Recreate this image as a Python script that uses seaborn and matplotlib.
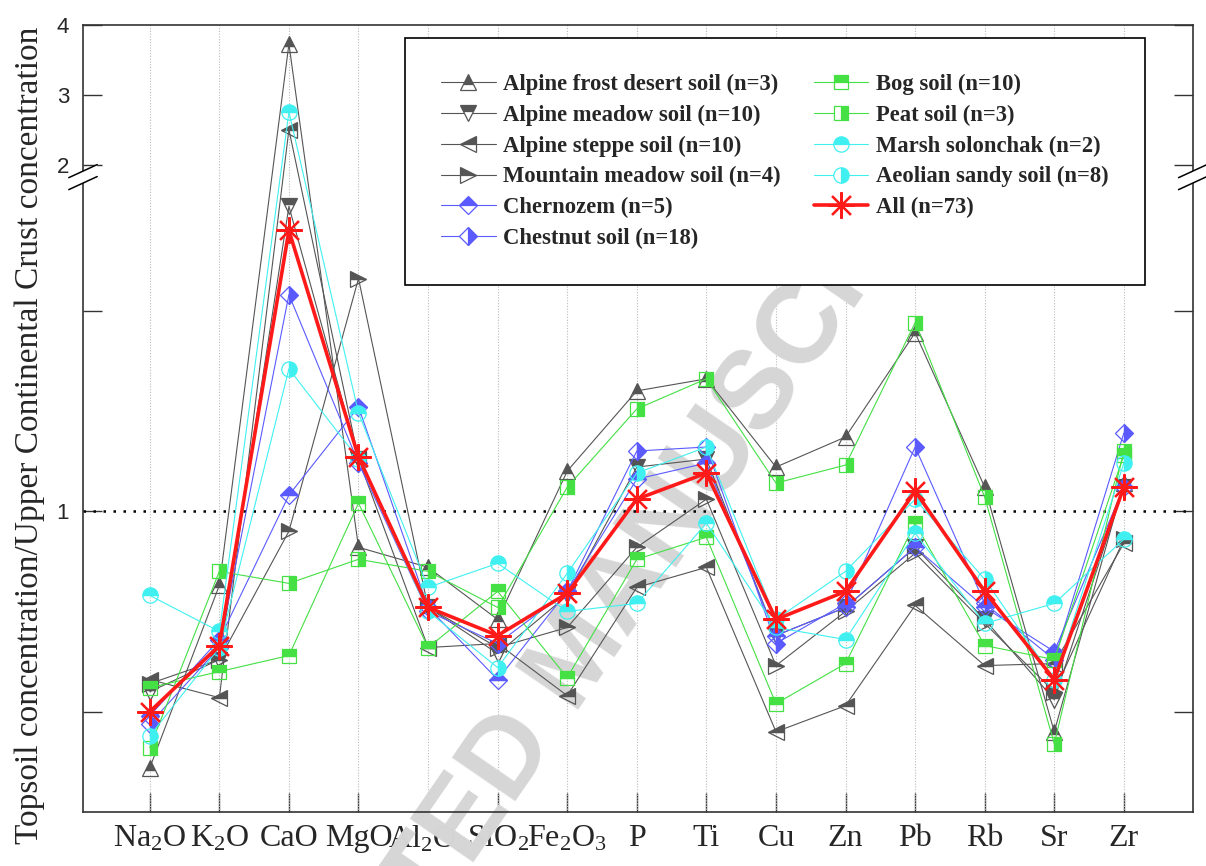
import numpy as np
import pandas as pd
import seaborn as sns
import matplotlib.pyplot as plt
from matplotlib.lines import Line2D

# ratios topsoil / upper continental crust
oxides = [r"Na$_2$O", r"K$_2$O", "CaO", "MgO", r"Al$_2$O$_3$", r"SiO$_2$", r"Fe$_2$O$_3$",
          "P", "Ti", "Cu", "Zn", "Pb", "Rb", "Sr", "Zr"]

alpine_frost = [0.36, 0.815, 3.73, 0.91, 0.86, 0.73, 1.10, 1.30, 1.33, 1.11, 1.185, 1.445, 1.06, 0.45, 1.07]
alpine_meadow = [0.55, 0.63, 1.76, 1.13, 0.76, 0.645, 0.79, 1.11, 1.13, 0.69, 0.76, 0.91, 0.73, 0.53, 1.06]
alpine_steppe = [0.58, 0.535, 2.51, 1.13, 0.66, 0.67, 0.54, 0.81, 0.86, 0.45, 0.515, 0.765, 0.615, 0.62, 0.92]
mountain_meadow = [0.57, 0.63, 0.95, 1.58, 0.76, 0.66, 0.71, 0.91, 1.03, 0.615, 0.75, 0.895, 0.72, 0.55, 0.93]
chernozem = [0.49, 0.68, 1.04, 1.26, 0.76, 0.58, 0.80, 1.08, 1.12, 0.69, 0.76, 0.91, 0.76, 0.65, 1.06]
chestnut = [0.47, 0.66, 1.54, 1.12, 0.75, 0.67, 0.80, 1.15, 1.16, 0.67, 0.77, 1.16, 0.77, 0.63, 1.195]
bog = [0.56, 0.60, 0.64, 1.02, 0.66, 0.80, 0.585, 0.88, 0.935, 0.52, 0.62, 0.97, 0.665, 0.63, 1.14]
peat = [0.41, 0.85, 0.82, 0.88, 0.85, 0.76, 1.06, 1.255, 1.33, 1.07, 1.115, 1.47, 1.035, 0.42, 1.15]
marsh = [0.79, 0.70, 2.76, 1.245, 0.81, 0.87, 0.75, 0.77, 0.97, 0.71, 0.68, 0.945, 0.72, 0.77, 0.93]
aeolian = [0.44, 0.66, 1.355, 1.13, 0.75, 0.61, 0.845, 1.095, 1.16, 0.73, 0.85, 1.03, 0.83, 0.58, 1.12]
all_soils = [0.50, 0.665, 1.70, 1.135, 0.76, 0.69, 0.795, 1.03, 1.095, 0.73, 0.80, 1.05, 0.80, 0.58, 1.06]

gray, blue, green, cyan = "#555555", "#5a5aff", "#44e044", "#40f0f0"
series = [
    ("Alpine frost desert soil (n=3)", alpine_frost, gray, "^", "top", 11),
    ("Alpine meadow soil (n=10)", alpine_meadow, gray, "v", "top", 11),
    ("Alpine steppe soil (n=10)", alpine_steppe, gray, "<", "top", 11),
    ("Mountain meadow soil (n=4)", mountain_meadow, gray, ">", "top", 11),
    ("Chernozem (n=5)", chernozem, blue, "D", "top", 9),
    ("Chestnut soil (n=18)", chestnut, blue, "D", "right", 9),
    ("Bog soil (n=10)", bog, green, "s", "top", 10),
    ("Peat soil (n=3)", peat, green, "s", "right", 10),
    ("Marsh solonchak (n=2)", marsh, cyan, "o", "top", 11),
    ("Aeolian sandy soil (n=8)", aeolian, cyan, "o", "right", 11),
]

sns.set_style("ticks")
plt.rcParams["font.family"] = ["Liberation Serif", "DejaVu Serif"]
plt.rcParams["mathtext.fontset"] = "custom"
plt.rcParams["mathtext.rm"] = "Liberation Serif"
plt.rcParams["mathtext.it"] = "Liberation Serif:italic"
plt.rcParams["mathtext.default"] = "rm"

fig = plt.figure(figsize=(12.06, 8.66), dpi=100)
ax = fig.add_axes([0.0688, 0.0624, 0.9202, 0.9087])

# broken y axis: 0.25-1.833 and 1.833-4 with different stretch
B = 1.833
def fwd(y):
    y = np.asarray(y, dtype=float)
    return np.where(y <= B, y * 400.0, B * 400.0 + (y - B) * 70.0)
def inv(u):
    u = np.asarray(u, dtype=float)
    return np.where(u <= B * 400.0, u / 400.0, B + (u - B * 400.0) / 70.0)
ax.set_yscale("function", functions=(fwd, inv))

pos = np.arange(len(oxides))
handles = []
for name, vals, col, mk, fs, ms in series:
    df = pd.DataFrame({"x": pos, "y": vals})
    sns.lineplot(data=df, x="x", y="y", ax=ax, color=col, lw=0.8, sort=False,
                 marker=mk, markersize=ms, fillstyle=fs, markerfacecolor=col,
                 markerfacecoloralt="none", markeredgecolor=col, markeredgewidth=0.9,
                 zorder=3)
    handles.append(Line2D([], [], color=col, lw=0.8, marker=mk, markersize=ms, fillstyle=fs,
                          markerfacecolor=col, markerfacecoloralt="white",
                          markeredgecolor=col, markeredgewidth=0.9, label=name))

df_all = pd.DataFrame({"x": pos, "y": all_soils})
sns.lineplot(data=df_all, x="x", y="y", ax=ax, color="#ff1a1a", lw=2.6, sort=False,
             marker=(8, 2, 0), markersize=19, markeredgecolor="#ff1a1a",
             markeredgewidth=1.6, zorder=4)
handles.append(Line2D([], [], color="#ff1a1a", lw=2.6, marker=(8, 2, 0), markersize=19,
                      markeredgecolor="#ff1a1a", markeredgewidth=1.6, label="All (n=73)"))

ax.set_xlim(-0.96, 14.99)
ax.set_ylim(0.25, 4.0)
for p in pos:
    ax.axvline(p, color="#bbbbbb", lw=0.8, ls=(0, (1, 1.5)), zorder=1)
ax.axhline(1, color="black", lw=1.8, ls=(0, (1, 3)), zorder=2)

ax.set_xticks(pos)
ax.set_xticklabels(oxides, fontsize=23)
ax.set_yticks([0.5, 1, 1.5, 2, 3, 4])
ax.set_yticklabels(["", "1", "", "2", "3", "4"], fontsize=16, family="Liberation Sans")
ax.tick_params(axis="both", direction="in", length=14, width=1, color="#333333")
ax.tick_params(axis="y", right=True, pad=10)
ax.tick_params(axis="x", pad=9)
ax.set_xlabel("")
ax.set_ylabel("Topsoil concentration/Upper Continental Crust concentration", fontsize=24)
ax.yaxis.set_label_coords(-0.034, 0.478)
for s in ax.spines.values():
    s.set_linewidth(1.2)
    s.set_color("#333333")

# axis break marks
yb = (fwd(B) - fwd(0.25)) / (fwd(4.0) - fwd(0.25))
dx, dy, gap = 0.0128, 0.0083, 0.0076
for xa in (0.0, 1.0):
    ax.fill([xa - dx, xa + dx, xa + dx, xa - dx],
            [yb - gap - dy, yb - gap + dy, yb + gap + dy, yb + gap - dy],
            transform=ax.transAxes, color="white", clip_on=False, zorder=6, lw=0)
    for off in (-gap, gap):
        ax.plot([xa - dx, xa + dx], [yb + off - dy, yb + off + dy], transform=ax.transAxes,
                color="black", lw=1.1, clip_on=False, zorder=7)

leg = ax.legend(handles=handles, ncol=2, loc="upper right", bbox_to_anchor=(0.957, 0.9835),
                prop={"family": "Liberation Serif", "weight": "bold", "size": 16.3},
                frameon=True, fancybox=False, edgecolor="black", framealpha=1,
                borderpad=1.6, labelspacing=0.42, handlelength=2.4, handletextpad=0.35,
                columnspacing=1.45, borderaxespad=0)
leg.get_frame().set_linewidth(1.2)
leg.set_zorder(8)

ax.text(0.48, 0.24, "ACCEPTED MANUSCRIPT", transform=fig.transFigure, rotation=55.5,
        fontsize=80, fontweight="bold", color="#d6d6d6", ha="center", va="center",
        family="Liberation Sans", zorder=1, clip_on=False)

fig.savefig("out.png", dpi=100)
